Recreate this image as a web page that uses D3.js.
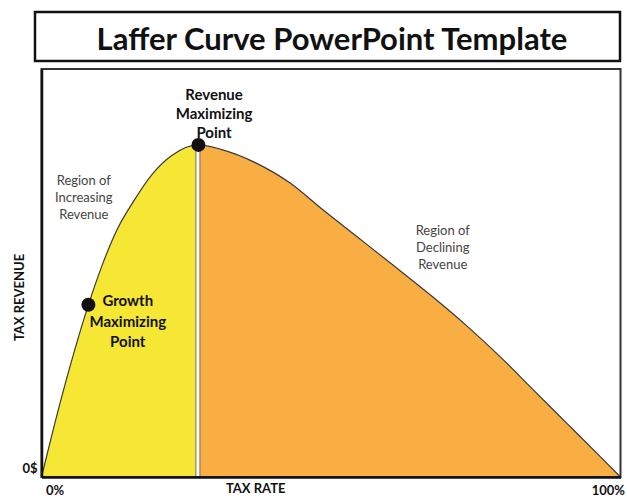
<!DOCTYPE html>
<html>
<head>
<meta charset="utf-8">
<script src="https://cdn.jsdelivr.net/npm/d3@7"></script>
<style>
  body { margin: 0; background: #fff; }
  svg text { font-family: Lato, "Open Sans", sans-serif; }
</style>
</head>
<body>
<div id="chart"></div>
<script>
// tax rate (%) and tax revenue (% of plot height)
const taxRate = [0, 2, 5, 8.1, 10.5, 13, 16, 19, 22.5, 27.1, 31, 37, 43, 48.6, 54.4, 60.2, 67.6, 73.4, 79.2, 84.9, 90.7, 96.5, 100];
const revenue = [0, 11.5, 27.5, 42.2, 52, 60.5, 67.8, 74, 78.8, 81.4, 80.3, 77, 72, 65.5, 59, 52.5, 44.1, 37.1, 29.5, 21.4, 13.2, 5.0, 0];

const peakRate = 27.1, peakRevenue = 81.4;
const growthRate = 8.1, growthRevenue = 42.2;

const xTickValues = [0, 100];
const xTickLabels = ["0%", "100%"];
const yTickValues = [0];
const yTickLabels = ["0$"];

const chartTitle = "Laffer Curve PowerPoint Template";
const xTitle = "TAX RATE";
const yTitle = "TAX REVENUE";
const peakLabel = ["Revenue", "Maximizing", "Point"];
const growthLabel = ["Growth", "Maximizing", "Point"];
const incLabel = ["Region of", "Increasing", "Revenue"];
const decLabel = ["Region of", "Declining", "Revenue"];

const W = 627, H = 499;
const margin = { LEFT: 41.5, RIGHT: 6.5, TOP: 69, BOTTOM: 22 };
const width = W - margin.LEFT - margin.RIGHT;
const height = H - margin.TOP - margin.BOTTOM;

const svg = d3.select("#chart").append("svg")
    .attr("width", W)
    .attr("height", H);

// title box
svg.append("rect")
    .attr("x", 35).attr("y", 12)
    .attr("width", 585).attr("height", 49)
    .attr("fill", "none")
    .attr("stroke", "#111")
    .attr("stroke-width", 2.5);

svg.append("text")
    .attr("x", 332).attr("y", 50)
    .attr("text-anchor", "middle")
    .attr("font-size", "31px")
    .attr("font-weight", "bold")
    .attr("fill", "#111")
    .text(chartTitle);

const g = svg.append("g")
    .attr("transform", `translate(${margin.LEFT}, ${margin.TOP})`);

const x = d3.scaleLinear().domain([0, 100]).range([0, width]);
const y = d3.scaleLinear().domain([0, 100]).range([height, 0]);

const data = taxRate.map((d, i) => ({ rate: d, rev: revenue[i] }));
const leftPart = data.filter(d => d.rate <= peakRate);
const rightPart = data.filter(d => d.rate >= peakRate);

const area = d3.area()
    .x(d => x(d.rate))
    .y0(height)
    .y1(d => y(d.rev))
    .curve(d3.curveMonotoneX);

const line = d3.line()
    .x(d => x(d.rate))
    .y(d => y(d.rev))
    .curve(d3.curveMonotoneX);

g.append("path")
    .datum(leftPart)
    .attr("d", area)
    .attr("fill", "#f5e733");

g.append("path")
    .datum(rightPart)
    .attr("d", area)
    .attr("fill", "#f8ae42");

g.append("path")
    .datum(data)
    .attr("d", line)
    .attr("fill", "none")
    .attr("stroke", "#3a3a3a")
    .attr("stroke-width", 1.2);

// white divider at the peak
g.append("rect")
    .attr("x", x(peakRate) - 2.5)
    .attr("y", y(peakRevenue))
    .attr("width", 4)
    .attr("height", height - y(peakRevenue))
    .attr("fill", "#fff")
    .attr("stroke", "#555")
    .attr("stroke-width", 0.8);

// plot frame
g.append("rect")
    .attr("x", 0).attr("y", 0)
    .attr("width", width).attr("height", height)
    .attr("fill", "none")
    .attr("stroke", "#333")
    .attr("stroke-width", 2);

// axes
const xAxisGroup = g.append("g")
    .attr("class", "x axis")
    .attr("transform", `translate(0, ${height})`)
    .call(d3.axisBottom(x).tickValues(xTickValues).tickSize(0)
        .tickFormat((d, i) => xTickLabels[i]));
xAxisGroup.select(".domain").attr("stroke", "#111").attr("stroke-width", 2.5);
xAxisGroup.selectAll("text")
    .attr("font-size", "13px")
    .attr("font-weight", "bold")
    .attr("fill", "#111")
    .attr("y", 18)
    .attr("dy", "0")
    .attr("text-anchor", (d, i) => i === 0 ? "start" : "end")
    .attr("x", 4);

const yAxisGroup = g.append("g")
    .attr("class", "y axis")
    .call(d3.axisLeft(y).tickValues(yTickValues).tickSize(0)
        .tickFormat((d, i) => yTickLabels[i]));
yAxisGroup.select(".domain").attr("stroke", "#111").attr("stroke-width", 2.5);
yAxisGroup.selectAll("text")
    .attr("font-size", "13px")
    .attr("font-weight", "bold")
    .attr("fill", "#111")
    .attr("x", -4)
    .attr("dy", "-0.35em");

// axis titles
g.append("text")
    .attr("x", x(37))
    .attr("y", height + 16)
    .attr("text-anchor", "middle")
    .attr("font-size", "13px")
    .attr("font-weight", "bold")
    .attr("fill", "#111")
    .text(xTitle);

g.append("text")
    .attr("transform", "rotate(-90)")
    .attr("x", -(y(44)))
    .attr("y", -18)
    .attr("text-anchor", "middle")
    .attr("font-size", "13px")
    .attr("font-weight", "bold")
    .attr("fill", "#111")
    .text(yTitle);

// key points
g.append("circle")
    .attr("cx", x(peakRate)).attr("cy", y(peakRevenue))
    .attr("r", 7).attr("fill", "#111");
g.append("circle")
    .attr("cx", x(growthRate)).attr("cy", y(growthRevenue))
    .attr("r", 7).attr("fill", "#111");

function multiLine(lines, cx, y0, step, size, weight, color) {
    const t = g.append("text")
        .attr("text-anchor", "middle")
        .attr("font-size", size)
        .attr("font-weight", weight)
        .attr("fill", color);
    lines.forEach((s, i) => {
        t.append("tspan").attr("x", cx).attr("y", y0 + i * step).text(s);
    });
}

multiLine(peakLabel, x(29.8), y(92.4), 19, "15px", "bold", "#111");
multiLine(growthLabel, x(14.9), y(41.8), 20.5, "15px", "bold", "#111");
multiLine(incLabel, x(7.3), y(71.6), 17, "13px", "normal", "#444");
multiLine(decLabel, x(69.3), y(59.2), 17, "13px", "normal", "#444");
</script>
</body>
</html>
